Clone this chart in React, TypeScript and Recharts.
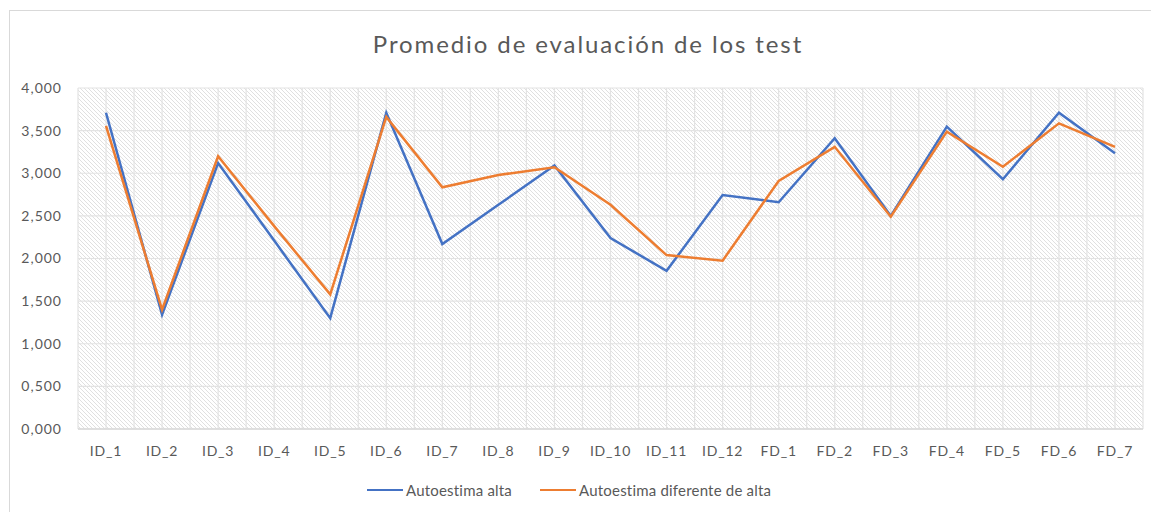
import { CartesianGrid, Line, LineChart, XAxis, YAxis } from "recharts";

const categories = [
  "ID_1", "ID_2", "ID_3", "ID_4", "ID_5", "ID_6", "ID_7", "ID_8", "ID_9", "ID_10",
  "ID_11", "ID_12", "FD_1", "FD_2", "FD_3", "FD_4", "FD_5", "FD_6", "FD_7",
];
const autoestimaAlta = [
  3.71, 1.34, 3.12, 2.21, 1.3, 3.71, 2.17, 2.63, 3.09, 2.24,
  1.855, 2.745, 2.66, 3.41, 2.5, 3.546, 2.93, 3.71, 3.234,
];
const autoestimaDiferente = [
  3.555, 1.4, 3.2, 2.38, 1.58, 3.66, 2.835, 2.98, 3.07, 2.63,
  2.04, 1.975, 2.91, 3.31, 2.49, 3.488, 3.077, 3.585, 3.31,
];
const yTicks = [0, 0.5, 1, 1.5, 2, 2.5, 3, 3.5, 4];

const seriesNames = ["Autoestima alta", "Autoestima diferente de alta"];
const seriesColors = ["#4472C4", "#ED7D31"];

const data = categories.map((name, i) => ({
  name,
  alta: autoestimaAlta[i],
  diferente: autoestimaDiferente[i],
}));

const font = "Lato, Calibri, 'Open Sans', sans-serif";
const fmt = (v: number) => v.toFixed(3).replace(".", ",");

export default function App() {
  return (
    <div style={{ position: "absolute", left: 0, top: 0, width: 1151, height: 512, background: "#fff", overflow: "hidden" }}>
      <div
        style={{
          position: "absolute",
          left: 9,
          top: 10,
          width: 1160,
          height: 520,
          border: "1.5px solid #d9d9d9",
        }}
      />
      <div
        style={{
          position: "absolute",
          left: 0,
          width: 1176,
          top: 29,
          textAlign: "center",
          fontFamily: font,
          fontSize: 24,
          letterSpacing: 1.9,
          color: "#595959",
        }}
      >
        Promedio de evaluación de los test
      </div>
      <div style={{ position: "absolute", left: 0, top: 0 }}>
        <LineChart width={1151} height={512} data={data} margin={{ top: 88, right: 8, left: 10, bottom: 53 }}>
          <defs>
            <pattern id="hatch" patternUnits="userSpaceOnUse" width="4" height="4">
              <rect width="4" height="4" fill="#ffffff" />
              <path d="M-1,-1 L5,5 M3,-1 L5,1 M-1,3 L1,5" stroke="#dcdcdc" strokeWidth="0.9" />
            </pattern>
          </defs>
          <CartesianGrid
            fill="url(#hatch)"
            fillOpacity={1}
            stroke="#e3e3e3"
            strokeWidth={1.2}
            verticalCoordinatesGenerator={({ offset }: any) =>
              Array.from({ length: categories.length * 2 + 1 }, (_, k) => offset.left + (k * offset.width) / (categories.length * 2))
            }
          />
          <XAxis
            dataKey="name"
            interval={0}
            padding={{ left: 28, right: 28 }}
            tickLine={false}
            tickSize={0}
            tickMargin={17}
            axisLine={{ stroke: "#d9d9d9", strokeWidth: 1.5 }}
            tick={{ fill: "#595959", fontSize: 14, fontFamily: font, letterSpacing: 0.8 }}
          />
          <YAxis
            domain={[0, 4]}
            ticks={yTicks}
            tickFormatter={fmt}
            width={68}
            axisLine={false}
            tickLine={false}
            tickSize={0}
            tickMargin={16}
            tick={{ fill: "#595959", fontSize: 14, fontFamily: font, letterSpacing: 1 }}
          />
          <Line type="linear" dataKey="alta" name={seriesNames[0]} stroke={seriesColors[0]} strokeWidth={2.5} dot={false} isAnimationActive={false} />
          <Line type="linear" dataKey="diferente" name={seriesNames[1]} stroke={seriesColors[1]} strokeWidth={2.5} dot={false} isAnimationActive={false} />
        </LineChart>
      </div>
      <div
        style={{
          position: "absolute",
          left: 367,
          top: 481,
          display: "flex",
          alignItems: "center",
          fontFamily: font,
          fontSize: 15,
          letterSpacing: 0.2,
          color: "#595959",
        }}
      >
        {seriesNames.map((n, i) => (
          <div key={n} style={{ display: "flex", alignItems: "center", marginRight: 28 }}>
            <span style={{ display: "inline-block", width: 36, height: 2.5, background: seriesColors[i], marginRight: 3 }} />
            {n}
          </div>
        ))}
      </div>
    </div>
  );
}
